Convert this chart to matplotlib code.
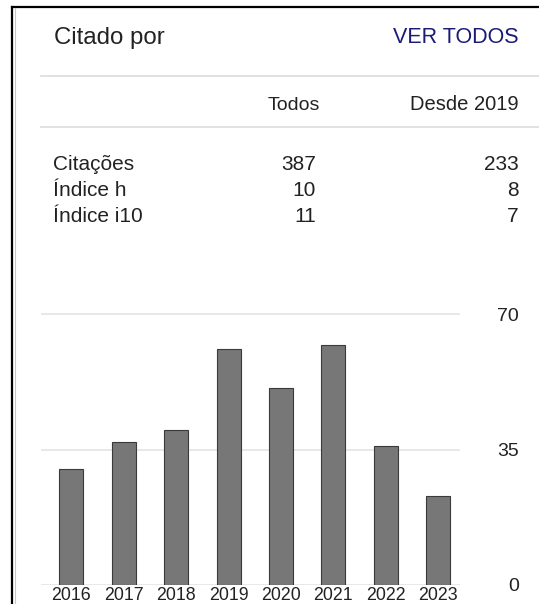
import matplotlib.pyplot as plt
from matplotlib.lines import Line2D
import numpy as np

years = ["2016", "2017", "2018", "2019", "2020", "2021", "2022", "2023"]
citations = [30, 37, 40, 61, 51, 62, 36, 23]
stat_names = ["Citações", "Índice h", "Índice i10"]
stat_all = ["387", "10", "11"]
stat_since = ["233", "8", "7"]
y_ticks = [0, 35, 70]

W, H = 539, 604
plt.rcParams['font.family'] = ['Liberation Sans', 'DejaVu Sans']

fig = plt.figure(figsize=(W / 100, H / 100), dpi=100)
fig.patch.set_facecolor("white")

def fx(px):
    return px / W

def fy(py):
    # pixel from top -> figure fraction
    return 1 - py / H

TXT = "#222222"

# header
fig.text(fx(54), fy(44), "Citado por", fontsize=17.3, color=TXT, va="baseline", ha="left")
fig.text(fx(519), fy(43), "VER TODOS", fontsize=15.5, color="#1a1a78", va="baseline", ha="right")
fig.text(fx(320), fy(110), "Todos", fontsize=14, color=TXT, va="baseline", ha="right")
fig.text(fx(519), fy(110), "Desde 2019", fontsize=14.5, color=TXT, va="baseline", ha="right")

# stats table
row_base = [170, 196, 222]
for name, a, s, yb in zip(stat_names, stat_all, stat_since, row_base):
    fig.text(fx(53), fy(yb), name, fontsize=15, color=TXT, va="baseline", ha="left")
    fig.text(fx(316), fy(yb), a, fontsize=15, color=TXT, va="baseline", ha="right")
    fig.text(fx(519), fy(yb), s, fontsize=15, color=TXT, va="baseline", ha="right")

# separator lines
for yy in [76, 127]:
    fig.add_artist(Line2D([fx(41), fx(W)], [fy(yy), fy(yy)], color="#dcdcdc", lw=1.2))

# outer frame (top and left edge visible)
fig.add_artist(Line2D([fx(12), fx(W)], [fy(6.5), fy(6.5)], color="black", lw=1.6))
fig.add_artist(Line2D([fx(12), fx(12)], [fy(6.5), fy(H)], color="black", lw=1.6))
fig.add_artist(Line2D([fx(14.5), fx(14.5)], [fy(8), fy(H)], color="#c8c8c8", lw=0.8))

# bar chart
ax_left, ax_right = 41, 460.3
y0_px = 584.7
px_per_unit = (584.7 - 314.3) / 70
ymax = 72
ax_h = ymax * px_per_unit
ax = fig.add_axes([fx(ax_left), (H - y0_px) / H, (ax_right - ax_left) / W, ax_h / H])

x = np.arange(len(years))
ax.bar(x, citations, width=0.458, color="#777777", edgecolor="#3a3a3a", linewidth=0.8, zorder=3)
ax.set_xlim(-0.578, 7.42)
ax.set_ylim(0, ymax)

ax.set_yticks(y_ticks)
ax.set_xticks(x)
ax.set_xticklabels(years)
ax.grid(axis="y", color="#e6e6e6", linewidth=1.3, zorder=0)
ax.grid(axis="x", visible=False)
for sp in ax.spines.values():
    sp.set_visible(False)

ax.tick_params(axis="x", length=0, pad=1.5, labelsize=12.8, labelcolor=TXT)
ax.tick_params(axis="y", length=0, labelleft=False, labelright=True,
               pad=(519 - ax_right) * 0.72, labelsize=14, labelcolor=TXT)
for lab in ax.get_yticklabels():
    lab.set_ha("right")
    lab.set_va("center_baseline")

plt.savefig("out.png", dpi=100)
